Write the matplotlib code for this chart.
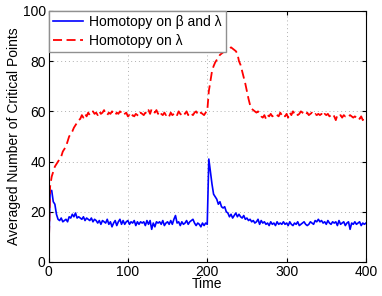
import numpy as np
import matplotlib
matplotlib.use("Agg")
import matplotlib.pyplot as plt

# time axis, one sample every 2 steps
time = np.arange(0, 401, 2)

# Homotopy on lambda (red dashed)
lam_only = [
    0, 30, 34, 36, 38, 39, 40, 41, 42, 44,
    45, 46, 48, 50, 51, 52, 53.5, 54.5, 55.5, 56.5,
    57, 58.5, 57.5, 59, 58, 59.5, 58.5, 59, 60, 59,
    59.5, 58.5, 60, 59, 59.5, 60.5, 59, 58.5, 59.5, 59,
    60, 59.5, 58.5, 59.5, 59, 60, 59.5, 58.5, 59, 59.5,
    58, 58.5, 57.5, 58.5, 58, 59, 58.5, 58, 59.5, 59,
    58.5, 59.5, 59, 60.5, 59, 61, 60, 59.5, 60.5, 59,
    60, 59, 58.5, 59.5, 58.5, 59, 58, 59.5, 58.5, 59,
    59.5, 58.5, 60, 59, 58.5, 59.5, 59, 60, 58.5, 59.5,
    59, 58.5, 59.5, 60, 59, 58.5, 59.5, 59, 58.5, 59.5,
    60, 68, 72, 76, 78, 79.5, 80.5, 81.5, 82.5, 83,
    83.5, 84, 84, 84.5, 85, 85.5, 85, 84.5, 84, 83,
    80, 78.5, 76, 73.5, 71, 68, 65, 62.5, 61, 60.5,
    60, 59.5, 60, 59, 58, 57.5, 58.5, 57, 58.5, 58,
    59, 58, 58.5, 59, 58.5, 58, 59.5, 58.5, 59, 58,
    59, 57.5, 59.5, 58.5, 60, 59, 59.5, 58.5, 59, 60,
    59.5, 59, 58.5, 59.5, 58.5, 59, 59.5, 58.5, 59, 58.5,
    59, 58.5, 59, 58, 59, 58.5, 59, 58, 58.5, 59,
    58, 56.5, 58.5, 58, 58.5, 57.5, 58.5, 58, 58.5, 58,
    58.5, 58, 57.5, 58, 57.5, 58, 57, 58, 56.5, 57.5,
    58,
]

# Homotopy on beta and lambda (blue solid)
beta_lam = [
    0, 28, 28.5, 24, 23, 19, 17, 16.5, 17.5, 16,
    16.5, 17, 16, 18, 17.5, 19, 18, 19.5, 17.5, 18,
    17.5, 17, 18, 16.5, 17.5, 17, 16.5, 17.5, 16, 17,
    16.5, 15.5, 16.5, 15, 16.5, 16, 15.5, 17, 15, 16,
    14, 15.5, 16.5, 14.5, 16, 17, 15, 16.5, 15, 16,
    16.5, 15, 16, 15.5, 16.5, 14.5, 16, 15, 16, 15.5,
    16, 14.5, 16.5, 15, 16.5, 13, 15.5, 14, 16, 15.5,
    16, 15, 16.5, 14.5, 15.5, 16, 15, 16.5, 15, 17,
    18.5, 15.5, 16, 14.5, 16, 15, 15.5, 16.5, 15, 16,
    16.5, 17, 15.5, 14.5, 15.5, 15, 14, 15.5, 14.5, 15.5,
    15, 41, 36, 31, 27, 26, 25, 23, 24, 22,
    21.5, 22, 20, 19.5, 18, 19, 17.5, 18.5, 19.5, 18,
    19, 18, 17.5, 18.5, 17, 17.5, 16.5, 17, 16, 16.5,
    15.5, 16, 17, 15, 16.5, 15.5, 16, 15, 15.5, 14.5,
    16, 15, 15.5, 14.5, 16, 15, 15.5, 15, 16, 15,
    15.5, 14.5, 16, 15, 14.5, 15.5, 15, 16, 14.5, 15,
    15.5, 16, 15, 14.5, 15, 16, 15.5, 15, 16.5, 16,
    17, 16, 16.5, 15.5, 16, 15, 16.5, 15.5, 15, 16,
    15.5, 16, 14.5, 16.5, 15, 15.5, 16, 14.5, 15.5, 16,
    13, 15.5, 15, 16, 15, 15.5, 16, 14.5, 15.5, 15,
    15.5,
]

plt.rcParams['font.family'] = ['Liberation Sans', 'DejaVu Sans']
plt.rcParams['font.size'] = 10

fig = plt.figure(figsize=(3.82, 2.96), dpi=100)
ax = fig.add_axes([0.127, 0.115, 0.831, 0.848])

ax.plot(time, beta_lam, color='#0000ff', lw=1.2, label='Homotopy on β and λ')
ax.plot(time, lam_only, color='#ff0000', lw=1.3, dashes=(5, 2.5), label='Homotopy on λ')

ax.set_xlim(0, 400)
ax.set_ylim(0, 100)
ax.set_xticks([0, 100, 200, 300, 400])
ax.set_yticks([0, 20, 40, 60, 80, 100])
ax.tick_params(direction='in', top=True, right=True, length=3, pad=2)
ax.grid(True, linestyle=(0, (1, 3)), color='#b0b0b0', lw=0.7)

ax.set_xlabel('Time', labelpad=-1)
ax.set_ylabel('Averaged Number of Critical Points', labelpad=1)

leg = ax.legend(loc='upper left', borderaxespad=0, handlelength=2.2,
                handletextpad=0.4, fancybox=False, framealpha=1,
                borderpad=0.3, labelspacing=0.35)
leg.get_frame().set_edgecolor('#909090')
leg.get_frame().set_linewidth(1.0)

plt.savefig('out.png', dpi=100)
